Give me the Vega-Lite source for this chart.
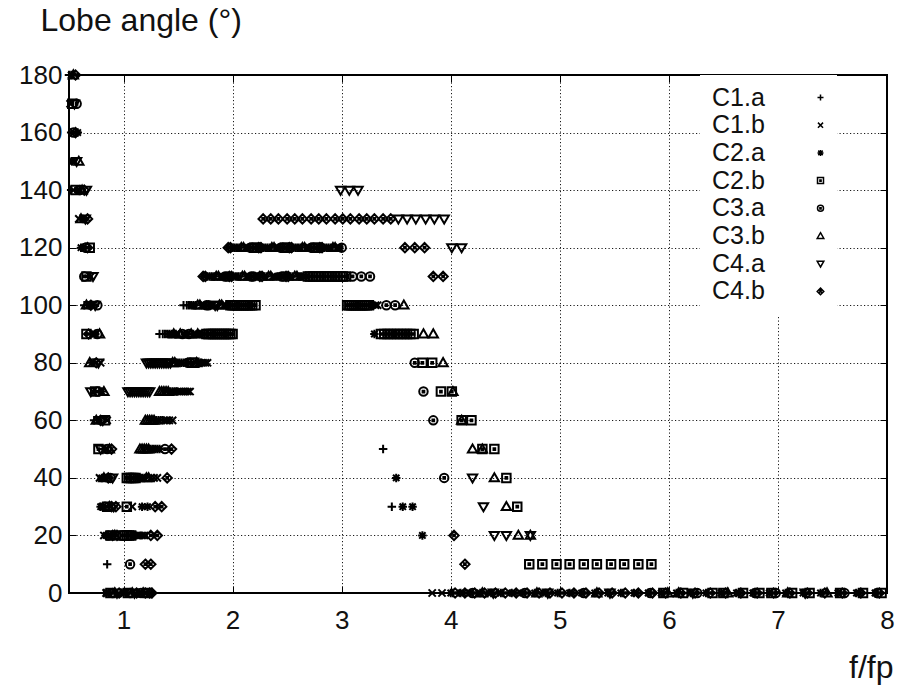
{
"$schema": "https://vega.github.io/schema/vega-lite/v6.json",
"width": 818, "height": 518,
"autosize": {"type": "none"},
"padding": {"left": 69, "top": 75, "right": 13, "bottom": 100},
"background": "white",
"config": {
  "font": "Liberation Sans",
  "view": {"stroke": "black", "strokeWidth": 2},
  "axis": {"domain": false, "tickColor": "black", "tickWidth": 1, "tickSize": -7, "gridColor": "black", "gridDash": [1.2, 2.3], "gridWidth": 1, "gridOpacity": 0.9, "labelFontSize": 26, "labelColor": "#111", "titleFontSize": 32, "titleFontWeight": "normal", "titleColor": "#111", "labelFlush": false, "labelOverlap": false}
},
"layer": [
{
"data": {"values": [
{"s":"C1.a","f":0.5,"a":180},{"s":"C2.a","f":0.52,"a":180},{"s":"C3.b","f":0.54,"a":180},{"s":"C4.b","f":0.56,"a":180},
{"s":"C1.b","f":0.51,"a":170},{"s":"C2.b","f":0.53,"a":170},{"s":"C4.a","f":0.55,"a":170},{"s":"C3.a","f":0.57,"a":170},
{"s":"C1.a","f":0.52,"a":160},{"s":"C3.a","f":0.54,"a":160},{"s":"C4.b","f":0.56,"a":160},{"s":"C2.a","f":0.58,"a":160},
{"s":"C2.a","f":0.53,"a":150},{"s":"C1.b","f":0.55,"a":150},{"s":"C4.a","f":0.57,"a":150},{"s":"C3.b","f":0.59,"a":150},
{"s":"C1.a","f":0.52,"a":140},{"s":"C1.b","f":0.54,"a":140},{"s":"C2.b","f":0.56,"a":140},{"s":"C2.a","f":0.58,"a":140},{"s":"C3.a","f":0.6,"a":140},{"s":"C3.b","f":0.62,"a":140},{"s":"C4.b","f":0.64,"a":140},{"s":"C4.a","f":0.66,"a":140},
{"s":"C1.b","f":0.59,"a":130},{"s":"C3.b","f":0.61,"a":130},{"s":"C2.a","f":0.63,"a":130},{"s":"C4.a","f":0.65,"a":130},{"s":"C4.b","f":0.67,"a":130},
{"s":"C2.a","f":0.61,"a":120},{"s":"C1.a","f":0.63,"a":120},{"s":"C3.a","f":0.65,"a":120},{"s":"C4.b","f":0.67,"a":120},{"s":"C2.b","f":0.69,"a":120},
{"s":"C3.a","f":0.64,"a":110},{"s":"C2.b","f":0.66,"a":110},{"s":"C1.a","f":0.68,"a":110},{"s":"C1.b","f":0.7,"a":110},{"s":"C4.a","f":0.72,"a":110},
{"s":"C1.a","f":0.64,"a":100},{"s":"C3.b","f":0.66,"a":100},{"s":"C2.a","f":0.68,"a":100},{"s":"C4.b","f":0.7,"a":100},{"s":"C1.b","f":0.72,"a":100},{"s":"C4.a","f":0.74,"a":100},{"s":"C3.a","f":0.76,"a":100},
{"s":"C2.b","f":0.66,"a":90},{"s":"C4.b","f":0.68,"a":90},{"s":"C1.a","f":0.7,"a":90},{"s":"C1.b","f":0.72,"a":90},{"s":"C2.a","f":0.74,"a":90},{"s":"C3.a","f":0.76,"a":90},{"s":"C3.b","f":0.78,"a":90},
{"s":"C3.b","f":0.69,"a":80},{"s":"C2.a","f":0.71,"a":80},{"s":"C1.a","f":0.73,"a":80},{"s":"C4.b","f":0.75,"a":80},{"s":"C4.a","f":0.77,"a":80},{"s":"C1.b","f":0.79,"a":80},
{"s":"C4.a","f":0.7,"a":70},{"s":"C1.b","f":0.72,"a":70},{"s":"C2.b","f":0.74,"a":70},{"s":"C3.a","f":0.76,"a":70},{"s":"C1.a","f":0.78,"a":70},{"s":"C2.a","f":0.8,"a":70},{"s":"C3.b","f":0.82,"a":70},
{"s":"C1.a","f":0.73,"a":60},{"s":"C3.b","f":0.75,"a":60},{"s":"C2.a","f":0.77,"a":60},{"s":"C4.b","f":0.79,"a":60},{"s":"C4.a","f":0.81,"a":60},{"s":"C2.b","f":0.83,"a":60},{"s":"C1.b","f":0.85,"a":60},
{"s":"C2.b","f":0.77,"a":50},{"s":"C4.a","f":0.79,"a":50},{"s":"C1.a","f":0.81,"a":50},{"s":"C2.a","f":0.83,"a":50},{"s":"C3.a","f":0.85,"a":50},{"s":"C3.b","f":0.87,"a":50},{"s":"C4.b","f":0.89,"a":50},
{"s":"C1.b","f":0.78,"a":40},{"s":"C2.a","f":0.8,"a":40},{"s":"C3.b","f":0.82,"a":40},{"s":"C1.a","f":0.84,"a":40},{"s":"C4.b","f":0.86,"a":40},{"s":"C3.a","f":0.88,"a":40},{"s":"C4.a","f":0.9,"a":40},
{"s":"C2.a","f":0.79,"a":30},{"s":"C1.b","f":0.81,"a":30},{"s":"C3.a","f":0.83,"a":30},{"s":"C2.b","f":0.85,"a":30},{"s":"C3.b","f":0.87,"a":30},{"s":"C4.b","f":0.89,"a":30},{"s":"C4.a","f":0.91,"a":30},{"s":"C4.b","f":0.93,"a":30},
{"s":"C1.b","f":0.82,"a":20},{"s":"C2.a","f":0.84,"a":20},{"s":"C3.a","f":0.86,"a":20},{"s":"C2.b","f":0.88,"a":20},{"s":"C4.b","f":0.9,"a":20},{"s":"C3.b","f":0.92,"a":20},{"s":"C4.b","f":0.94,"a":20},
{"s":"C1.a","f":0.85,"a":10},
{"s":"C1.a","f":0.82,"a":0},{"s":"C1.b","f":0.84,"a":0},{"s":"C2.a","f":0.86,"a":0},{"s":"C2.b","f":0.88,"a":0},{"s":"C3.a","f":0.9,"a":0},{"s":"C3.b","f":0.92,"a":0},{"s":"C4.a","f":0.94,"a":0},{"s":"C4.b","f":0.96,"a":0},{"s":"C1.a","f":0.98,"a":0},{"s":"C1.b","f":1.0,"a":0},{"s":"C2.a","f":1.02,"a":0},{"s":"C2.b","f":1.04,"a":0},{"s":"C3.a","f":1.06,"a":0},{"s":"C3.b","f":1.08,"a":0},{"s":"C4.a","f":1.1,"a":0},{"s":"C4.b","f":1.12,"a":0},{"s":"C2.a","f":1.14,"a":0},{"s":"C3.a","f":1.16,"a":0},{"s":"C3.b","f":1.18,"a":0},{"s":"C4.b","f":1.2,"a":0},{"s":"C2.b","f":1.22,"a":0},{"s":"C4.b","f":1.24,"a":0},{"s":"C4.b","f":1.26,"a":0},
{"s":"C3.a","f":1.06,"a":10},{"s":"C4.b","f":1.2,"a":10},{"s":"C4.b","f":1.25,"a":10},
{"s":"C2.b","f":0.99,"a":20},{"s":"C2.b","f":1.01,"a":20},{"s":"C2.b","f":1.03,"a":20},{"s":"C2.b","f":1.05,"a":20},{"s":"C2.b","f":1.07,"a":20},{"s":"C2.a","f":1.09,"a":20},{"s":"C2.a","f":1.11,"a":20},{"s":"C1.b","f":1.13,"a":20},{"s":"C1.b","f":1.15,"a":20},{"s":"C1.b","f":1.17,"a":20},{"s":"C1.b","f":1.19,"a":20},{"s":"C4.b","f":1.25,"a":20},{"s":"C4.b","f":1.31,"a":20},
{"s":"C2.b","f":1.03,"a":30},{"s":"C1.b","f":1.08,"a":30},{"s":"C2.a","f":1.17,"a":30},{"s":"C2.a","f":1.22,"a":30},{"s":"C4.b","f":1.29,"a":30},{"s":"C4.b","f":1.35,"a":30},
{"s":"C2.b","f":1.03,"a":40},{"s":"C2.b","f":1.05,"a":40},{"s":"C2.b","f":1.07,"a":40},{"s":"C2.b","f":1.09,"a":40},{"s":"C2.b","f":1.11,"a":40},{"s":"C2.a","f":1.13,"a":40},{"s":"C2.a","f":1.15,"a":40},{"s":"C2.a","f":1.17,"a":40},{"s":"C2.a","f":1.19,"a":40},{"s":"C3.b","f":1.21,"a":40},{"s":"C3.b","f":1.23,"a":40},{"s":"C1.b","f":1.25,"a":40},{"s":"C1.b","f":1.28,"a":40},{"s":"C1.b","f":1.31,"a":40},{"s":"C4.b","f":1.4,"a":40},
{"s":"C3.b","f":1.15,"a":50},{"s":"C3.b","f":1.17,"a":50},{"s":"C3.b","f":1.19,"a":50},{"s":"C3.b","f":1.21,"a":50},{"s":"C3.b","f":1.23,"a":50},{"s":"C2.a","f":1.25,"a":50},{"s":"C2.a","f":1.27,"a":50},{"s":"C2.a","f":1.29,"a":50},{"s":"C2.a","f":1.31,"a":50},{"s":"C2.a","f":1.33,"a":50},{"s":"C3.a","f":1.38,"a":50},{"s":"C4.b","f":1.44,"a":50},
{"s":"C3.b","f":1.2,"a":60},{"s":"C3.b","f":1.22,"a":60},{"s":"C3.b","f":1.24,"a":60},{"s":"C3.b","f":1.26,"a":60},{"s":"C3.b","f":1.28,"a":60},{"s":"C2.a","f":1.3,"a":60},{"s":"C2.a","f":1.32,"a":60},{"s":"C1.a","f":1.34,"a":60},{"s":"C1.a","f":1.36,"a":60},{"s":"C1.b","f":1.38,"a":60},{"s":"C1.b","f":1.4,"a":60},{"s":"C1.b","f":1.42,"a":60},{"s":"C1.b","f":1.45,"a":60},
{"s":"C4.a","f":1.04,"a":70},{"s":"C4.a","f":1.06,"a":70},{"s":"C4.a","f":1.08,"a":70},{"s":"C4.a","f":1.1,"a":70},{"s":"C4.a","f":1.12,"a":70},{"s":"C4.a","f":1.14,"a":70},{"s":"C4.a","f":1.16,"a":70},{"s":"C4.a","f":1.18,"a":70},{"s":"C4.a","f":1.2,"a":70},{"s":"C4.a","f":1.22,"a":70},{"s":"C4.a","f":1.24,"a":70},
{"s":"C3.b","f":1.33,"a":70},{"s":"C3.b","f":1.35,"a":70},{"s":"C3.b","f":1.37,"a":70},{"s":"C3.b","f":1.39,"a":70},{"s":"C3.b","f":1.41,"a":70},{"s":"C2.a","f":1.43,"a":70},{"s":"C2.a","f":1.45,"a":70},{"s":"C2.a","f":1.47,"a":70},{"s":"C2.a","f":1.49,"a":70},{"s":"C1.b","f":1.51,"a":70},{"s":"C1.b","f":1.53,"a":70},{"s":"C1.b","f":1.55,"a":70},{"s":"C1.b","f":1.57,"a":70},{"s":"C1.b","f":1.59,"a":70},{"s":"C1.b","f":1.61,"a":70},
{"s":"C4.a","f":1.21,"a":80},{"s":"C4.a","f":1.23,"a":80},{"s":"C4.a","f":1.25,"a":80},{"s":"C4.a","f":1.27,"a":80},{"s":"C4.a","f":1.29,"a":80},{"s":"C4.a","f":1.31,"a":80},{"s":"C4.a","f":1.33,"a":80},{"s":"C4.a","f":1.35,"a":80},{"s":"C4.a","f":1.37,"a":80},{"s":"C4.a","f":1.39,"a":80},{"s":"C4.a","f":1.41,"a":80},{"s":"C4.a","f":1.43,"a":80},
{"s":"C3.b","f":1.45,"a":80},{"s":"C3.b","f":1.47,"a":80},{"s":"C2.a","f":1.49,"a":80},{"s":"C2.a","f":1.51,"a":80},{"s":"C2.a","f":1.53,"a":80},{"s":"C1.a","f":1.55,"a":80},{"s":"C1.a","f":1.57,"a":80},{"s":"C3.a","f":1.59,"a":80},{"s":"C3.a","f":1.61,"a":80},{"s":"C2.b","f":1.63,"a":80},{"s":"C2.b","f":1.65,"a":80},{"s":"C3.b","f":1.67,"a":80},{"s":"C1.b","f":1.69,"a":80},{"s":"C2.a","f":1.71,"a":80},{"s":"C1.b","f":1.73,"a":80},{"s":"C1.b","f":1.75,"a":80},{"s":"C1.b","f":1.77,"a":80},
{"s":"C1.a","f":1.33,"a":90},{"s":"C1.a","f":1.36,"a":90},{"s":"C1.a","f":1.38,"a":90},{"s":"C1.a","f":1.4,"a":90},{"s":"C2.a","f":1.42,"a":90},{"s":"C2.a","f":1.44,"a":90},{"s":"C3.b","f":1.46,"a":90},{"s":"C2.a","f":1.48,"a":90},{"s":"C1.b","f":1.5,"a":90},{"s":"C3.b","f":1.52,"a":90},{"s":"C3.a","f":1.54,"a":90},{"s":"C1.b","f":1.56,"a":90},{"s":"C2.a","f":1.58,"a":90},{"s":"C3.a","f":1.6,"a":90},{"s":"C3.b","f":1.62,"a":90},{"s":"C2.a","f":1.64,"a":90},{"s":"C1.b","f":1.66,"a":90},{"s":"C3.b","f":1.68,"a":90},{"s":"C2.a","f":1.7,"a":90},{"s":"C1.b","f":1.72,"a":90},{"s":"C3.a","f":1.74,"a":90},
{"s":"C2.b","f":1.76,"a":90},{"s":"C2.b","f":1.78,"a":90},{"s":"C2.b","f":1.8,"a":90},{"s":"C2.b","f":1.82,"a":90},{"s":"C2.b","f":1.84,"a":90},{"s":"C2.b","f":1.86,"a":90},{"s":"C2.b","f":1.88,"a":90},{"s":"C2.b","f":1.9,"a":90},{"s":"C2.b","f":1.92,"a":90},{"s":"C2.b","f":1.94,"a":90},{"s":"C2.b","f":1.96,"a":90},{"s":"C2.b","f":1.98,"a":90},{"s":"C2.b","f":2.0,"a":90},
{"s":"C1.a","f":1.55,"a":100},{"s":"C1.a","f":1.58,"a":100},{"s":"C1.a","f":1.6,"a":100},{"s":"C2.a","f":1.62,"a":100},{"s":"C2.a","f":1.64,"a":100},{"s":"C1.a","f":1.66,"a":100},{"s":"C3.b","f":1.68,"a":100},{"s":"C3.b","f":1.7,"a":100},{"s":"C1.b","f":1.72,"a":100},{"s":"C1.b","f":1.74,"a":100},{"s":"C3.a","f":1.76,"a":100},{"s":"C3.a","f":1.78,"a":100},{"s":"C2.a","f":1.8,"a":100},{"s":"C2.a","f":1.82,"a":100},{"s":"C4.a","f":1.84,"a":100},{"s":"C4.a","f":1.86,"a":100},{"s":"C3.b","f":1.88,"a":100},{"s":"C3.b","f":1.9,"a":100},{"s":"C1.b","f":1.92,"a":100},{"s":"C1.b","f":1.94,"a":100},{"s":"C2.a","f":1.96,"a":100},
{"s":"C2.b","f":1.98,"a":100},{"s":"C2.b","f":2.0,"a":100},{"s":"C2.b","f":2.02,"a":100},{"s":"C2.b","f":2.04,"a":100},{"s":"C2.b","f":2.06,"a":100},{"s":"C2.b","f":2.08,"a":100},{"s":"C2.b","f":2.1,"a":100},{"s":"C2.b","f":2.12,"a":100},{"s":"C2.b","f":2.14,"a":100},{"s":"C2.b","f":2.16,"a":100},{"s":"C2.b","f":2.18,"a":100},{"s":"C2.b","f":2.21,"a":100},
{"s":"C4.b","f":1.73,"a":110},{"s":"C4.b","f":1.75,"a":110},{"s":"C1.a","f":1.77,"a":110},{"s":"C1.a","f":1.79,"a":110},{"s":"C2.a","f":1.81,"a":110},{"s":"C2.a","f":1.83,"a":110},{"s":"C3.b","f":1.85,"a":110},{"s":"C3.b","f":1.87,"a":110},{"s":"C1.b","f":1.89,"a":110},{"s":"C1.b","f":1.91,"a":110},{"s":"C3.a","f":1.93,"a":110},{"s":"C3.a","f":1.95,"a":110},{"s":"C4.b","f":1.97,"a":110},{"s":"C4.b","f":1.99,"a":110},{"s":"C2.a","f":2.01,"a":110},{"s":"C2.a","f":2.03,"a":110},{"s":"C1.a","f":2.05,"a":110},{"s":"C1.a","f":2.07,"a":110},{"s":"C3.b","f":2.09,"a":110},{"s":"C3.b","f":2.11,"a":110},{"s":"C1.b","f":2.13,"a":110},{"s":"C1.b","f":2.15,"a":110},{"s":"C3.a","f":2.17,"a":110},{"s":"C3.a","f":2.19,"a":110},{"s":"C2.a","f":2.21,"a":110},{"s":"C2.a","f":2.23,"a":110},{"s":"C4.b","f":2.25,"a":110},{"s":"C4.b","f":2.27,"a":110},{"s":"C1.a","f":2.29,"a":110},{"s":"C1.a","f":2.31,"a":110},{"s":"C3.b","f":2.33,"a":110},{"s":"C3.b","f":2.35,"a":110},{"s":"C1.b","f":2.37,"a":110},{"s":"C1.b","f":2.39,"a":110},{"s":"C2.a","f":2.41,"a":110},{"s":"C2.a","f":2.43,"a":110},{"s":"C3.a","f":2.45,"a":110},{"s":"C3.a","f":2.47,"a":110},{"s":"C4.b","f":2.49,"a":110},{"s":"C4.b","f":2.51,"a":110},{"s":"C1.a","f":2.53,"a":110},{"s":"C1.a","f":2.55,"a":110},{"s":"C3.b","f":2.57,"a":110},{"s":"C3.b","f":2.59,"a":110},{"s":"C2.a","f":2.61,"a":110},{"s":"C2.a","f":2.63,"a":110},{"s":"C1.b","f":2.65,"a":110},{"s":"C1.b","f":2.67,"a":110},
{"s":"C2.b","f":2.69,"a":110},{"s":"C2.b","f":2.71,"a":110},{"s":"C2.b","f":2.74,"a":110},{"s":"C2.b","f":2.76,"a":110},{"s":"C2.b","f":2.79,"a":110},{"s":"C2.b","f":2.81,"a":110},{"s":"C2.b","f":2.84,"a":110},{"s":"C2.b","f":2.86,"a":110},{"s":"C2.b","f":2.89,"a":110},{"s":"C2.b","f":2.91,"a":110},{"s":"C2.b","f":2.94,"a":110},{"s":"C2.b","f":2.96,"a":110},{"s":"C2.b","f":2.99,"a":110},{"s":"C2.b","f":3.01,"a":110},{"s":"C2.b","f":3.04,"a":110},
{"s":"C3.a","f":3.1,"a":110},{"s":"C3.a","f":3.18,"a":110},{"s":"C3.a","f":3.26,"a":110},{"s":"C4.b","f":3.84,"a":110},{"s":"C4.b","f":3.93,"a":110},
{"s":"C4.b","f":1.96,"a":120},{"s":"C4.b","f":1.98,"a":120},{"s":"C1.a","f":2.0,"a":120},{"s":"C1.a","f":2.02,"a":120},{"s":"C2.a","f":2.04,"a":120},{"s":"C2.a","f":2.06,"a":120},{"s":"C3.b","f":2.08,"a":120},{"s":"C3.b","f":2.1,"a":120},{"s":"C1.b","f":2.12,"a":120},{"s":"C1.b","f":2.14,"a":120},{"s":"C3.a","f":2.16,"a":120},{"s":"C3.a","f":2.18,"a":120},{"s":"C2.b","f":2.2,"a":120},{"s":"C2.b","f":2.22,"a":120},{"s":"C4.b","f":2.24,"a":120},{"s":"C4.b","f":2.26,"a":120},{"s":"C1.a","f":2.28,"a":120},{"s":"C1.a","f":2.3,"a":120},{"s":"C2.a","f":2.32,"a":120},{"s":"C2.a","f":2.34,"a":120},{"s":"C3.b","f":2.36,"a":120},{"s":"C3.b","f":2.38,"a":120},{"s":"C1.b","f":2.4,"a":120},{"s":"C1.b","f":2.42,"a":120},{"s":"C3.a","f":2.44,"a":120},{"s":"C3.a","f":2.46,"a":120},{"s":"C2.b","f":2.48,"a":120},{"s":"C2.b","f":2.5,"a":120},{"s":"C4.b","f":2.52,"a":120},{"s":"C4.b","f":2.54,"a":120},{"s":"C1.a","f":2.56,"a":120},{"s":"C1.a","f":2.58,"a":120},{"s":"C2.a","f":2.6,"a":120},{"s":"C2.a","f":2.62,"a":120},{"s":"C3.b","f":2.64,"a":120},{"s":"C3.b","f":2.66,"a":120},{"s":"C1.b","f":2.68,"a":120},{"s":"C1.b","f":2.7,"a":120},{"s":"C3.a","f":2.72,"a":120},{"s":"C3.a","f":2.74,"a":120},{"s":"C2.b","f":2.76,"a":120},{"s":"C2.b","f":2.78,"a":120},{"s":"C4.b","f":2.8,"a":120},{"s":"C4.b","f":2.82,"a":120},{"s":"C1.a","f":2.84,"a":120},{"s":"C1.a","f":2.86,"a":120},{"s":"C2.a","f":2.88,"a":120},{"s":"C2.a","f":2.9,"a":120},{"s":"C3.b","f":2.92,"a":120},{"s":"C3.b","f":2.94,"a":120},{"s":"C1.b","f":2.96,"a":120},{"s":"C1.b","f":2.98,"a":120},{"s":"C3.a","f":3.0,"a":120},
{"s":"C4.b","f":3.58,"a":120},{"s":"C4.b","f":3.67,"a":120},{"s":"C4.b","f":3.76,"a":120},{"s":"C4.a","f":4.01,"a":120},{"s":"C4.a","f":4.1,"a":120},
{"s":"C4.b","f":2.28,"a":130},{"s":"C4.b","f":2.35,"a":130},{"s":"C4.b","f":2.42,"a":130},{"s":"C4.b","f":2.5,"a":130},{"s":"C4.b","f":2.57,"a":130},{"s":"C4.b","f":2.64,"a":130},{"s":"C4.b","f":2.72,"a":130},{"s":"C4.b","f":2.79,"a":130},{"s":"C4.b","f":2.86,"a":130},{"s":"C4.b","f":2.94,"a":130},{"s":"C4.b","f":3.01,"a":130},{"s":"C4.b","f":3.08,"a":130},{"s":"C4.b","f":3.16,"a":130},{"s":"C4.b","f":3.23,"a":130},{"s":"C4.b","f":3.3,"a":130},{"s":"C4.b","f":3.38,"a":130},{"s":"C4.b","f":3.45,"a":130},
{"s":"C4.a","f":3.52,"a":130},{"s":"C4.a","f":3.6,"a":130},{"s":"C4.a","f":3.68,"a":130},{"s":"C4.a","f":3.77,"a":130},{"s":"C4.a","f":3.85,"a":130},{"s":"C4.a","f":3.94,"a":130},
{"s":"C4.a","f":2.99,"a":140},{"s":"C4.a","f":3.07,"a":140},{"s":"C4.a","f":3.15,"a":140},
{"s":"C2.b","f":3.05,"a":100},{"s":"C2.b","f":3.07,"a":100},{"s":"C2.b","f":3.09,"a":100},{"s":"C2.b","f":3.11,"a":100},{"s":"C2.b","f":3.13,"a":100},{"s":"C2.b","f":3.15,"a":100},{"s":"C2.b","f":3.17,"a":100},{"s":"C2.b","f":3.19,"a":100},{"s":"C2.b","f":3.21,"a":100},{"s":"C2.b","f":3.23,"a":100},{"s":"C2.b","f":3.25,"a":100},{"s":"C2.a","f":3.27,"a":100},{"s":"C2.a","f":3.29,"a":100},{"s":"C1.b","f":3.31,"a":100},{"s":"C1.b","f":3.33,"a":100},{"s":"C3.a","f":3.41,"a":100},{"s":"C3.a","f":3.49,"a":100},{"s":"C3.b","f":3.57,"a":100},
{"s":"C2.a","f":3.3,"a":90},{"s":"C2.b","f":3.36,"a":90},{"s":"C2.b","f":3.39,"a":90},{"s":"C2.b","f":3.42,"a":90},{"s":"C2.b","f":3.45,"a":90},{"s":"C2.b","f":3.48,"a":90},{"s":"C2.b","f":3.51,"a":90},{"s":"C2.b","f":3.54,"a":90},{"s":"C2.b","f":3.57,"a":90},{"s":"C2.b","f":3.6,"a":90},{"s":"C2.b","f":3.63,"a":90},{"s":"C2.b","f":3.66,"a":90},{"s":"C3.b","f":3.75,"a":90},{"s":"C3.b","f":3.84,"a":90},
{"s":"C3.a","f":3.67,"a":80},{"s":"C2.b","f":3.74,"a":80},{"s":"C2.b","f":3.83,"a":80},{"s":"C3.b","f":3.93,"a":80},
{"s":"C3.a","f":3.75,"a":70},{"s":"C2.b","f":3.91,"a":70},{"s":"C2.b","f":4.01,"a":70},{"s":"C3.b","f":4.02,"a":70},
{"s":"C3.a","f":3.84,"a":60},{"s":"C2.b","f":4.1,"a":60},{"s":"C3.b","f":4.1,"a":60},{"s":"C2.b","f":4.19,"a":60},
{"s":"C1.a","f":3.38,"a":50},{"s":"C3.b","f":4.2,"a":50},{"s":"C3.b","f":4.29,"a":50},{"s":"C2.b","f":4.29,"a":50},{"s":"C2.b","f":4.4,"a":50},
{"s":"C2.a","f":3.5,"a":40},{"s":"C3.a","f":3.94,"a":40},{"s":"C4.a","f":4.2,"a":40},{"s":"C3.b","f":4.4,"a":40},{"s":"C2.b","f":4.51,"a":40},
{"s":"C1.a","f":3.46,"a":30},{"s":"C2.a","f":3.56,"a":30},{"s":"C2.a","f":3.65,"a":30},{"s":"C4.a","f":4.3,"a":30},{"s":"C3.b","f":4.51,"a":30},{"s":"C2.b","f":4.61,"a":30},
{"s":"C2.a","f":3.74,"a":20},{"s":"C4.b","f":4.03,"a":20},{"s":"C4.a","f":4.4,"a":20},{"s":"C4.a","f":4.51,"a":20},{"s":"C3.b","f":4.62,"a":20},{"s":"C3.b","f":4.73,"a":20},{"s":"C4.a","f":4.73,"a":20},
{"s":"C4.b","f":4.13,"a":10},{"s":"C2.b","f":4.72,"a":10},{"s":"C2.b","f":4.84,"a":10},{"s":"C2.b","f":4.97,"a":10},{"s":"C2.b","f":5.09,"a":10},{"s":"C2.b","f":5.22,"a":10},{"s":"C2.b","f":5.34,"a":10},{"s":"C2.b","f":5.47,"a":10},{"s":"C2.b","f":5.59,"a":10},{"s":"C2.b","f":5.72,"a":10},{"s":"C2.b","f":5.84,"a":10},
{"s":"C1.b","f":3.83,"a":0},{"s":"C1.b","f":3.92,"a":0},
{"s":"C2.a","f":4.0,"a":0},{"s":"C1.a","f":4.02,"a":0},{"s":"C4.b","f":4.04,"a":0},
{"s":"C2.a","f":4.09,"a":0},{"s":"C1.b","f":4.11,"a":0},{"s":"C4.b","f":4.13,"a":0},
{"s":"C2.a","f":4.18,"a":0},{"s":"C3.a","f":4.2,"a":0},{"s":"C4.b","f":4.22,"a":0},
{"s":"C2.a","f":4.27,"a":0},{"s":"C3.b","f":4.29,"a":0},{"s":"C4.b","f":4.31,"a":0},
{"s":"C2.a","f":4.37,"a":0},{"s":"C4.a","f":4.39,"a":0},{"s":"C4.b","f":4.41,"a":0},
{"s":"C2.a","f":4.46,"a":0},{"s":"C1.a","f":4.48,"a":0},{"s":"C4.b","f":4.5,"a":0},
{"s":"C2.a","f":4.56,"a":0},{"s":"C1.b","f":4.58,"a":0},{"s":"C4.b","f":4.6,"a":0},
{"s":"C2.a","f":4.66,"a":0},{"s":"C3.a","f":4.68,"a":0},{"s":"C4.b","f":4.7,"a":0},
{"s":"C2.a","f":4.77,"a":0},{"s":"C3.b","f":4.79,"a":0},{"s":"C4.b","f":4.81,"a":0},
{"s":"C2.a","f":4.87,"a":0},{"s":"C4.a","f":4.89,"a":0},{"s":"C4.b","f":4.91,"a":0},
{"s":"C2.a","f":4.98,"a":0},{"s":"C1.a","f":5.0,"a":0},{"s":"C4.b","f":5.02,"a":0},
{"s":"C2.a","f":5.09,"a":0},{"s":"C1.b","f":5.11,"a":0},{"s":"C4.b","f":5.13,"a":0},
{"s":"C2.a","f":5.2,"a":0},{"s":"C3.a","f":5.22,"a":0},{"s":"C4.b","f":5.24,"a":0},
{"s":"C2.a","f":5.32,"a":0},{"s":"C3.b","f":5.34,"a":0},{"s":"C4.b","f":5.36,"a":0},
{"s":"C2.a","f":5.44,"a":0},{"s":"C4.a","f":5.46,"a":0},{"s":"C4.b","f":5.48,"a":0},
{"s":"C2.a","f":5.56,"a":0},{"s":"C1.a","f":5.58,"a":0},{"s":"C4.b","f":5.6,"a":0},
{"s":"C2.a","f":5.68,"a":0},{"s":"C1.b","f":5.7,"a":0},{"s":"C4.b","f":5.72,"a":0},
{"s":"C2.a","f":5.81,"a":0},{"s":"C3.a","f":5.83,"a":0},{"s":"C4.b","f":5.85,"a":0},
{"s":"C2.a","f":5.93,"a":0},{"s":"C2.b","f":5.95,"a":0},{"s":"C4.b","f":5.97,"a":0},{"s":"C3.b","f":5.99,"a":0},
{"s":"C2.a","f":6.07,"a":0},{"s":"C3.b","f":6.09,"a":0},{"s":"C4.b","f":6.11,"a":0},{"s":"C2.b","f":6.13,"a":0},
{"s":"C2.a","f":6.2,"a":0},{"s":"C4.a","f":6.22,"a":0},{"s":"C4.b","f":6.24,"a":0},{"s":"C3.a","f":6.26,"a":0},
{"s":"C2.a","f":6.34,"a":0},{"s":"C1.a","f":6.36,"a":0},{"s":"C4.b","f":6.38,"a":0},{"s":"C2.b","f":6.4,"a":0},
{"s":"C2.a","f":6.48,"a":0},{"s":"C2.b","f":6.5,"a":0},{"s":"C4.b","f":6.52,"a":0},{"s":"C3.b","f":6.54,"a":0},
{"s":"C2.a","f":6.62,"a":0},{"s":"C1.b","f":6.64,"a":0},{"s":"C4.b","f":6.66,"a":0},{"s":"C2.b","f":6.68,"a":0},
{"s":"C2.a","f":6.77,"a":0},{"s":"C3.a","f":6.79,"a":0},{"s":"C4.b","f":6.81,"a":0},{"s":"C2.b","f":6.83,"a":0},
{"s":"C2.a","f":6.92,"a":0},{"s":"C2.b","f":6.94,"a":0},{"s":"C4.b","f":6.96,"a":0},{"s":"C3.a","f":6.98,"a":0},
{"s":"C2.a","f":7.07,"a":0},{"s":"C3.b","f":7.09,"a":0},{"s":"C4.b","f":7.11,"a":0},{"s":"C2.b","f":7.13,"a":0},
{"s":"C2.a","f":7.23,"a":0},{"s":"C4.a","f":7.25,"a":0},{"s":"C4.b","f":7.27,"a":0},{"s":"C2.b","f":7.29,"a":0},
{"s":"C2.a","f":7.39,"a":0},{"s":"C1.a","f":7.41,"a":0},{"s":"C4.b","f":7.43,"a":0},{"s":"C3.b","f":7.45,"a":0},
{"s":"C2.a","f":7.55,"a":0},{"s":"C2.b","f":7.57,"a":0},{"s":"C4.b","f":7.59,"a":0},{"s":"C3.a","f":7.61,"a":0},
{"s":"C2.a","f":7.72,"a":0},{"s":"C1.b","f":7.74,"a":0},{"s":"C4.b","f":7.76,"a":0},{"s":"C2.b","f":7.78,"a":0},
{"s":"C2.a","f":7.89,"a":0},{"s":"C3.a","f":7.91,"a":0},{"s":"C4.b","f":7.93,"a":0},{"s":"C2.b","f":7.95,"a":0}
]},
"mark": {"type": "point", "filled": false, "color": "black", "strokeWidth": 2, "size": 72, "opacity": 1, "clip": false},
"encoding": {
  "x": {"field": "f", "type": "quantitative", "scale": {"domain": [0.5, 8], "nice": false, "zero": false},
        "axis": {"orient": "bottom", "values": [1,2,3,4,5,6,7,8], "grid": true, "labelPadding": 21, "title": "f/fp", "titleAlign": "right", "titleAnchor": null, "titleX": 824, "titleY": 84, "titleBaseline": "alphabetic"}},
  "y": {"field": "a", "type": "quantitative", "scale": {"domain": [0, 180], "nice": false, "zero": false},
        "axis": {"orient": "left", "values": [0,20,40,60,80,100,120,140,160,180], "grid": true, "labelPadding": 14, "title": "Lobe angle (°)", "titleAngle": 0, "titleAlign": "left", "titleAnchor": null, "titleX": -29, "titleY": -45, "titleBaseline": "alphabetic"}},
  "shape": {"field": "s", "type": "nominal",
    "scale": {"domain": ["C1.a","C1.b","C2.a","C2.b","C3.a","C3.b","C4.a","C4.b"],
              "range": ["M-1,0H1M0,-1V1", "M-0.85,-0.85L0.85,0.85M-0.85,0.85L0.85,-0.85", "M-1,0H1M0,-1V1M-0.75,-0.75L0.75,0.75M-0.75,0.75L0.75,-0.75", "M-1,-1H1V1H-1ZM-0.2,-0.2H0.2V0.2H-0.2Z", "M-1,0A1,1,0,1,1,1,0A1,1,0,1,1,-1,0ZM-0.2,-0.2H0.2V0.2H-0.2Z", "M0,-1.1L1.1,0.8H-1.1Z", "M0,1.1L1.1,-0.8H-1.1Z", "M0,-1.1L1.1,0L0,1.1L-1.1,0ZM-0.2,-0.2H0.2V0.2H-0.2Z"]},
    "legend": {"orient": "none", "legendX": 631, "legendY": 0, "title": null, "labelFontSize": 25, "labelColor": "#111", "labelOffset": -121, "symbolOffset": 98, "symbolSize": 36, "symbolStrokeWidth": 1.5, "symbolStrokeColor": "black", "symbolFillColor": "transparent", "rowPadding": 1.7, "fillColor": "white", "padding": 10}}
}
},
{
"data": {"values": [{"f": 0.5, "a": 0}, {"f": 8, "a": 180}]},
"mark": {"type": "point", "opacity": 0},
"encoding": {
  "x": {"field": "f", "type": "quantitative", "axis": {"orient": "top", "values": [1,2,3,4,5,6,7,8], "labels": false, "grid": false, "title": null}},
  "y": {"field": "a", "type": "quantitative", "axis": {"orient": "right", "values": [0,20,40,60,80,100,120,140,160,180], "labels": false, "grid": false, "title": null}}
}
}
],
"resolve": {"axis": {"x": "independent", "y": "independent"}}
}
